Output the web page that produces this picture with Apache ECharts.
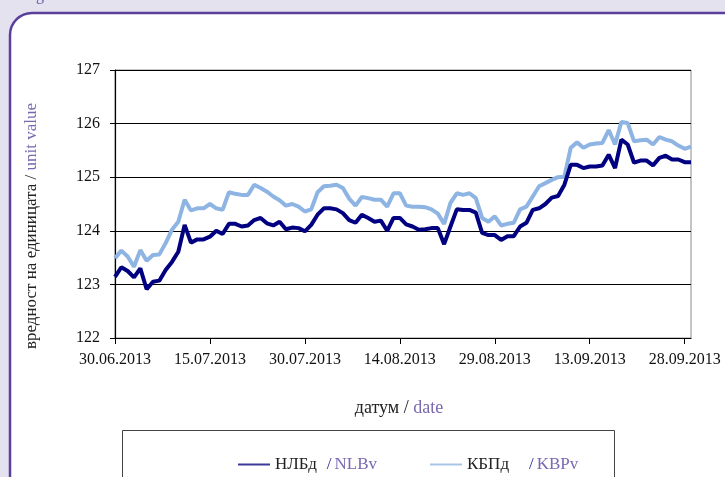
<!DOCTYPE html>
<html>
<head>
<meta charset="utf-8">
<script src="https://cdn.jsdelivr.net/npm/echarts@6/dist/echarts.min.js"></script>
<style>
  html, body { margin: 0; padding: 0; background: #e4e2ef; }
  #chart { width: 725px; height: 477px; }
</style>
</head>
<body>
<div id="chart"></div>
<script>
// дневни стойности от 30.06.2013 (ден 0) до 30.09.2013
const tickLabels = ['30.06.2013', '15.07.2013', '30.07.2013', '14.08.2013', '29.08.2013', '13.09.2013', '28.09.2013']

const nlb = [
  123.14, 123.32, 123.25, 123.13, 123.30, 122.91, 123.05, 123.07, 123.27, 123.42,
  123.61, 124.11, 123.78, 123.84, 123.84, 123.89, 124.00, 123.94, 124.13, 124.13,
  124.08, 124.10, 124.20, 124.24, 124.14, 124.10, 124.17, 124.03, 124.06, 124.05,
  123.99, 124.11, 124.30, 124.42, 124.42, 124.40, 124.33, 124.20, 124.15, 124.30,
  124.24, 124.17, 124.19, 124.00, 124.24, 124.24, 124.12, 124.08, 124.02, 124.03,
  124.05, 124.05, 123.75, 124.08, 124.40, 124.39, 124.39, 124.34, 123.96, 123.92,
  123.92, 123.83, 123.90, 123.90, 124.08, 124.15, 124.39, 124.42, 124.50, 124.62,
  124.65, 124.86, 125.23, 125.23, 125.17, 125.20, 125.20, 125.22, 125.42, 125.17,
  125.70, 125.61, 125.27, 125.31, 125.31, 125.22, 125.36, 125.40, 125.33, 125.33,
  125.28, 125.28
]

const kbp = [
  123.49, 123.63, 123.52, 123.33, 123.64, 123.44, 123.55, 123.56, 123.77, 124.02,
  124.17, 124.58, 124.38, 124.42, 124.42, 124.50, 124.42, 124.39, 124.72, 124.69,
  124.67, 124.67, 124.86, 124.80, 124.73, 124.64, 124.57, 124.47, 124.50, 124.45,
  124.36, 124.40, 124.72, 124.83, 124.84, 124.86, 124.80, 124.60, 124.47, 124.63,
  124.61, 124.58, 124.58, 124.45, 124.70, 124.70, 124.47, 124.45, 124.45, 124.44,
  124.40, 124.32, 124.13, 124.52, 124.70, 124.67, 124.70, 124.61, 124.24, 124.17,
  124.27, 124.10, 124.13, 124.15, 124.40, 124.45, 124.64, 124.83, 124.89, 124.95,
  125.00, 125.01, 125.55, 125.65, 125.55, 125.61, 125.63, 125.64, 125.88, 125.61,
  126.03, 126.01, 125.67, 125.69, 125.70, 125.61, 125.75, 125.70, 125.67, 125.59,
  125.53, 125.57
]

const serif = '"Liberation Serif", "DejaVu Serif", serif'
const purple = '#7a68b0'

let chart = echarts.init(document.getElementById('chart'))

chart.setOption({
  backgroundColor: '#e4e2ef',
  animation: false,
  textStyle: { fontFamily: serif },
  graphic: [
    {
      type: 'rect',
      z: -10,
      shape: { x: 10, y: 13, width: 760, height: 520, r: 22 },
      style: { fill: '#ffffff', stroke: '#5b3f9c', lineWidth: 2.5 }
    },
    {
      type: 'text',
      z: -5,
      left: 36,
      top: -12,
      style: { text: 'g', fill: '#6b55a6', font: '16px ' + serif }
    },
    {
      type: 'rect',
      shape: { x: 122.5, y: 430.5, width: 492, height: 60 },
      style: { fill: '#ffffff', stroke: '#444444', lineWidth: 1 }
    },
    {
      type: 'text',
      x: 32,
      y: 226,
      rotation: Math.PI / 2,
      style: {
        text: '{a|вредност на единицата / }{b|unit value}',
        align: 'center',
        verticalAlign: 'middle',
        rich: {
          a: { fill: '#222222', font: '17px ' + serif },
          b: { fill: purple, font: '17px ' + serif }
        }
      }
    },
    {
      type: 'text',
      x: 399,
      y: 408,
      style: {
        text: '{a|датум / }{b|date}',
        align: 'center',
        verticalAlign: 'middle',
        rich: {
          a: { fill: '#222222', font: '18px ' + serif },
          b: { fill: purple, font: '18px ' + serif }
        }
      }
    }
  ],
  grid: {
    left: 115,
    right: 34,
    top: 70,
    bottom: 139,
    show: true,
    borderColor: '#8a8a8a',
    borderWidth: 1
  },
  legend: [
    {
      data: [{ name: 'НЛБд', itemStyle: { color: '#3a3a98' } }],
      left: 233,
      top: 451,
      icon: 'rect',
      itemWidth: 32,
      itemHeight: 2,
      itemGap: 0,
      formatter: '{a|{name}}{s|/}{b|NLBv}',
      textStyle: {
        rich: {
          a: { color: '#222222', fontSize: 17, fontFamily: serif, padding: [0, 10, 0, 0] },
          s: { color: '#2c2c96', fontSize: 17, fontFamily: serif, padding: [0, 3, 0, 0] },
          b: { color: purple, fontSize: 17, fontFamily: serif }
        }
      }
    },
    {
      data: [{ name: 'КБПд', itemStyle: { color: '#a8c5e8' } }],
      left: 425,
      top: 451,
      icon: 'rect',
      itemWidth: 32,
      itemHeight: 2,
      itemGap: 0,
      formatter: '{a|{name}}{s|/}{b|KBPv}',
      textStyle: {
        rich: {
          a: { color: '#222222', fontSize: 17, fontFamily: serif, padding: [0, 20, 0, 0] },
          s: { color: '#2c2c96', fontSize: 17, fontFamily: serif, padding: [0, 3, 0, 0] },
          b: { color: purple, fontSize: 17, fontFamily: serif }
        }
      }
    }
  ],
  xAxis: {
    type: 'value',
    min: 0,
    max: 91,
    interval: 15,
    axisLine: { lineStyle: { color: '#000000', width: 1.2 } },
    axisTick: { show: true, inside: false, length: 6, lineStyle: { color: '#000000' } },
    axisLabel: {
      color: '#111111',
      fontSize: 16,
      fontFamily: serif,
      margin: 14,
      showMaxLabel: false,
      formatter: function (v) { return tickLabels[v / 15] || '' }
    },
    splitLine: { show: false }
  },
  yAxis: {
    type: 'value',
    min: 122,
    max: 127,
    interval: 1,
    axisLine: { show: true, lineStyle: { color: '#000000', width: 1.2 } },
    axisTick: { show: true, inside: false, length: 5, lineStyle: { color: '#000000' } },
    axisLabel: { color: '#111111', fontSize: 16, fontFamily: serif, margin: 15 },
    splitLine: { show: true, lineStyle: { color: '#000000', width: 1.2 } }
  },
  series: [
    {
      name: 'НЛБд',
      type: 'line',
      data: nlb.map((v, i) => [i, v]),
      showSymbol: false,
      z: 3,
      lineStyle: { color: '#000080', width: 4 },
      itemStyle: { color: '#000080' }
    },
    {
      name: 'КБПд',
      type: 'line',
      data: kbp.map((v, i) => [i, v]),
      showSymbol: false,
      z: 2,
      lineStyle: { color: '#8db4e2', width: 4 },
      itemStyle: { color: '#8db4e2' }
    }
  ]
})
</script>
</body>
</html>
